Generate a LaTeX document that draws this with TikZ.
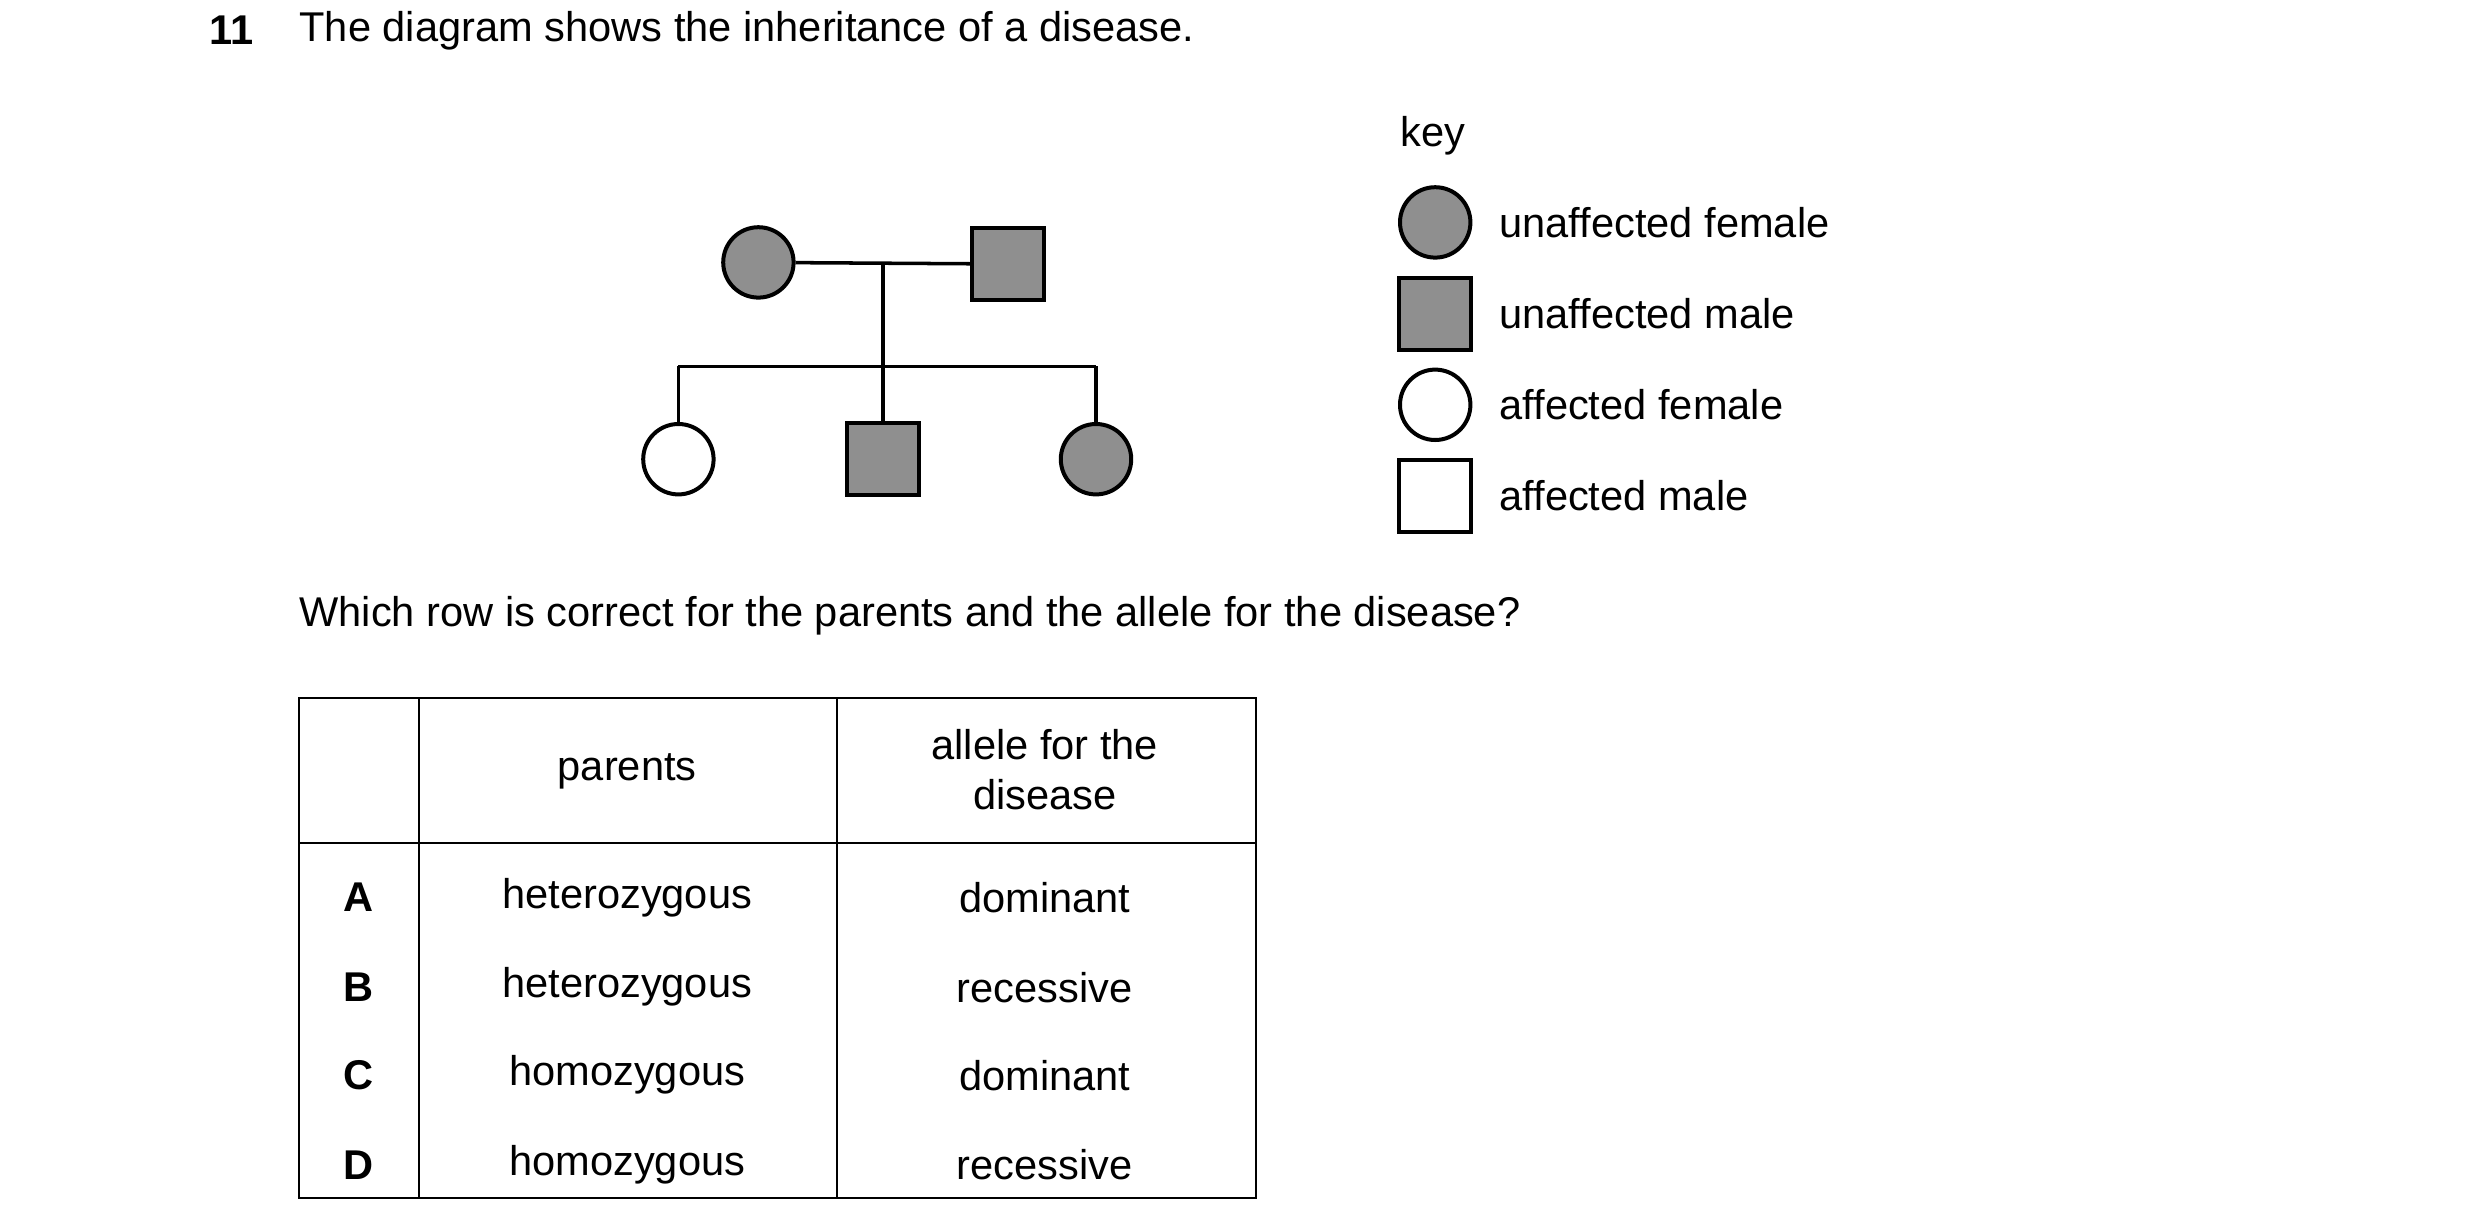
\documentclass[tikz,border=0pt]{standalone}
\usepackage{fontspec}
\setmainfont{Liberation Sans}
\begin{document}
\begin{tikzpicture}[x=1pt,y=-1pt,
  every node/.style={font=\fontsize{26}{31}\selectfont,inner sep=0pt},
  fem/.style={circle,draw,line width=2.5pt,minimum size=44pt},
  mal/.style={rectangle,draw,line width=2.5pt,minimum size=45pt},
  aff/.style={fill=white},
  un/.style={fill=black!44},
  ln/.style={line width=2.2pt},
  tb/.style={line width=1.3pt}]
\useasboundingbox (0,0) rectangle (1550,766);
\node[anchor=west,font=\fontsize{26}{31}\selectfont\bfseries] (num) at (131,19) {11};
\node[anchor=west] (q1) at (187,19) {The diagram shows the inheritance of a disease.};
% pedigree
\node[fem,un] (mom) at (474,164) {};
\node[mal,un] (dad) at (630,165) {};
\coordinate (mid) at (552,164);
\coordinate (bar) at (552,229);
\coordinate (bl) at (424,229);
\coordinate (br) at (685,229);
\node[fem,aff] (c1) at (424,287) {};
\node[mal,un] (c2) at (552,287) {};
\node[fem,un] (c3) at (685,287) {};
\draw[ln] (mom) -- (dad);
\draw[ln] (mid) -- (bar);
\draw[ln] (bl) -- (br);
\draw[ln] (bl) -- (c1);
\draw[ln] (bar) -- (c2);
\draw[ln] (br) -- (c3);
% key
\node[anchor=west] (key) at (875,85) {key};
\node[fem,un] (k1) at (897,139) {};
\node[mal,un] (k2) at (897,196) {};
\node[fem,aff] (k3) at (897,253) {};
\node[mal,aff] (k4) at (897,310) {};
\node[anchor=west] (l1) at (937,139) {unaffected female};
\node[anchor=west] (l2) at (937,196) {unaffected male};
\node[anchor=west] (l3) at (937,253) {affected female};
\node[anchor=west] (l4) at (937,310) {affected male};
\node[anchor=west] (q2) at (187,385) {Which row is correct for the parents and the allele for the disease?};
% table
\draw[tb] (187,436) rectangle (785,749);
\draw[tb] (262,436) -- (262,749);
\draw[tb] (523,436) -- (523,749);
\draw[tb] (187,527) -- (785,527);
\node (h1) at (392,482) {parents};
\node[align=center] (h2) at (653,481) {allele for the\\disease};
\foreach \l/\p/\a/\y in {A/heterozygous/dominant/561,B/heterozygous/recessive/617,C/homozygous/dominant/672,D/homozygous/recessive/728}{
  \node[font=\fontsize{26}{31}\selectfont\bfseries] at (224,\y) {\l};
  \node at (392,\y) {\p};
  \node at (653,\y) {\a};
}
\end{tikzpicture}
\end{document}
